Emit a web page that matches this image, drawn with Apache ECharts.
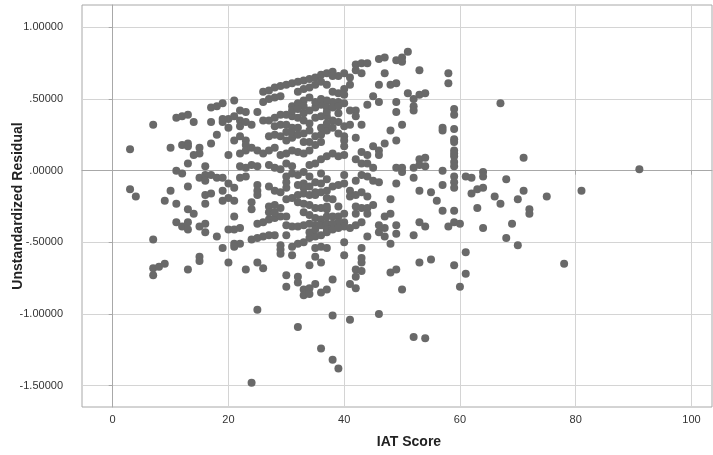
<!DOCTYPE html>
<html>
<head>
<meta charset="utf-8">
<title>Residual vs IAT Score</title>
<script src="https://cdn.jsdelivr.net/npm/echarts@6/dist/echarts.min.js"></script>
<style>
  html, body { margin: 0; padding: 0; background: #fff; }
  #chart { width: 713px; height: 455px; }
</style>
</head>
<body>
<div id="chart"></div>
<script>
// tick values of both axes
const xTicks = [0, 20, 40, 60, 80, 100];
const yTicks = [-1.5, -1.0, -0.5, 0, 0.5, 1.0];

// [IAT score, unstandardized residual]
const residualPoints = [
  // x 0-20, upper half
  [3, 0.15], [7, 0.32], [10, 0.16], [11, 0.37], [12, 0.38], [13, 0.39], [14, 0.34], [12, 0.18], [13, 0.19],
  [13, 0.17], [15, 0.16], [15, 0.12], [14, 0.11], [13, 0.05], [11, 0.0], [12, -0.02], [16, 0.03], [17, 0.44],
  [18, 0.45], [19, 0.47], [17, 0.34], [19, 0.36], [19, 0.34], [18, 0.25], [17, 0.19], [20, 0.3], [20, 0.11],
  // x 0-20, lower half
  [3, -0.13], [4, -0.18], [10, -0.14], [9, -0.21], [11, -0.23], [13, -0.11], [13, -0.27], [14, -0.3], [11, -0.36],
  [12, -0.39], [13, -0.36], [13, -0.41], [15, -0.39], [16, -0.37], [16, -0.43], [15, -0.05], [16, -0.03], [16, -0.07],
  [17, -0.03], [18, -0.05], [19, -0.05], [16, -0.17], [17, -0.16], [16, -0.23], [19, -0.14], [19, -0.21], [20, -0.19],
  [18, -0.46], [20, -0.41], [19, -0.54], [7, -0.48], [7, -0.68], [8, -0.67], [9, -0.65], [7, -0.73], [13, -0.69],
  [15, -0.6], [15, -0.63], [20, -0.64],
  // x 20-37, upper half
  [26, 0.55], [27, 0.56], [28, 0.58], [29, 0.59], [30, 0.6], [31, 0.61], [32, 0.62], [33, 0.63], [34, 0.64],
  [35, 0.65], [36, 0.67], [37, 0.68], [21, 0.49], [20, 0.36], [22, 0.42], [23, 0.41], [21, 0.38], [22, 0.35],
  [22, 0.31], [23, 0.34], [24, 0.32], [25, 0.41], [26, 0.48], [27, 0.5], [28, 0.51], [29, 0.52], [26, 0.35],
  [27, 0.35], [28, 0.37], [29, 0.39], [30, 0.39], [31, 0.38], [32, 0.37], [28, 0.31], [29, 0.32], [30, 0.32],
  [31, 0.3], [32, 0.3], [33, 0.4], [34, 0.42], [35, 0.44], [36, 0.46], [33, 0.49], [34, 0.51], [35, 0.48],
  [36, 0.5], [37, 0.49], [21, 0.21], [22, 0.24], [23, 0.21], [23, 0.18], [22, 0.12], [23, 0.14], [24, 0.16],
  [25, 0.14], [26, 0.12], [27, 0.24], [28, 0.25], [29, 0.24], [30, 0.21], [31, 0.23], [27, 0.14], [28, 0.16],
  [29, 0.11], [30, 0.12], [31, 0.14], [32, 0.13], [33, 0.12], [34, 0.14], [35, 0.24], [36, 0.25], [37, 0.28],
  [35, 0.37], [36, 0.38], [37, 0.38], [22, 0.03], [23, 0.02], [24, 0.04], [25, 0.03], [27, 0.04], [28, 0.02],
  [29, 0.01], [30, 0.05], [31, 0.03], [33, -0.01], [34, 0.04], [35, 0.05], [36, 0.08], [37, 0.1], [31, 0.45],
  [32, 0.47], [33, 0.45], [32, 0.55], [33, 0.57], [34, 0.58], [35, 0.6], [36, 0.62], [37, 0.6], [31, 0.42],
  [32, 0.43], [33, 0.35], [34, 0.33], [30, 0.27], [31, 0.26], [32, 0.25], [33, 0.26], [34, 0.2], [35, 0.18],
  [36, 0.2], [33, 0.2], [34, 0.28], [36, 0.3],
  // x 20-37, lower half
  [22, -0.05], [23, -0.04], [20, -0.09], [21, -0.12], [21, -0.21], [21, -0.32], [21, -0.41], [22, -0.4],
  [21, -0.51], [22, -0.51], [21, -0.53], [23, -0.69], [24, -0.22], [24, -0.27], [25, -0.1], [25, -0.14],
  [25, -0.17], [25, -0.37], [26, -0.36], [27, -0.34], [28, -0.33], [29, -0.32], [24, -0.48], [25, -0.47],
  [26, -0.46], [27, -0.45], [28, -0.45], [25, -0.64], [26, -0.68], [27, -0.11], [28, -0.14], [29, -0.15],
  [30, -0.12], [27, -0.25], [28, -0.24], [29, -0.26], [30, -0.2], [31, -0.19], [27, -0.29], [28, -0.29],
  [30, -0.32], [30, -0.38], [30, -0.45], [29, -0.52], [29, -0.55], [29, -0.58], [31, -0.59], [30, -0.73],
  [30, -0.81], [32, -0.74], [32, -0.78], [33, -0.83], [33, -0.87], [34, -0.82], [34, -0.86], [35, -0.79],
  [36, -0.85], [37, -0.83], [34, -0.66], [35, -0.54], [35, -0.6], [36, -0.64], [36, -0.53], [31, -0.53],
  [32, -0.51], [33, -0.5], [34, -0.47], [35, -0.46], [36, -0.45], [37, -0.43], [30, -0.08], [30, -0.04],
  [33, -0.09], [33, -0.12], [35, -0.08], [35, -0.15], [32, -0.17], [33, -0.16], [34, -0.17], [35, -0.17],
  [36, -0.15], [37, -0.14], [32, -0.22], [33, -0.23], [34, -0.24], [35, -0.26], [36, -0.26], [37, -0.27],
  [33, -0.29], [34, -0.31], [35, -0.33], [36, -0.34], [31, -0.39], [32, -0.39], [33, -0.38], [34, -0.37],
  [35, -0.38], [36, -0.38], [37, -0.37], [34, -0.43], [35, -0.41], [31, -0.02], [32, -0.03], [34, -0.04],
  [36, -0.02], [37, -0.06], [32, -0.1], [34, -0.11], [36, -0.09],
  // far below
  [25, -0.97], [32, -1.09], [36, -1.24], [24, -1.48],
  // x 37-54, upper half
  [46, 0.78], [47, 0.79], [49, 0.77], [50, 0.79], [50, 0.76], [51, 0.83], [53, 0.7], [47, 0.68], [42, 0.74],
  [43, 0.75], [44, 0.75], [42, 0.7], [43, 0.68], [46, 0.6], [48, 0.6], [49, 0.61], [38, 0.69], [38, 0.66],
  [39, 0.66], [40, 0.68], [41, 0.65], [41, 0.6], [38, 0.55], [39, 0.54], [40, 0.57], [40, 0.53], [38, 0.48],
  [39, 0.48], [40, 0.47], [45, 0.52], [46, 0.48], [44, 0.46], [49, 0.48], [49, 0.41], [51, 0.54], [52, 0.5],
  [52, 0.45], [52, 0.42], [53, 0.53], [54, 0.54], [37, 0.44], [37, 0.41], [38, 0.44], [39, 0.45], [39, 0.4],
  [41, 0.42], [42, 0.42], [42, 0.38], [38, 0.35], [37, 0.33], [39, 0.34], [40, 0.31], [38, 0.3], [41, 0.32],
  [43, 0.32], [50, 0.32], [48, 0.28], [49, 0.21], [47, 0.19], [45, 0.17], [46, 0.14], [46, 0.11], [39, 0.26],
  [40, 0.24], [40, 0.21], [42, 0.23], [40, 0.17], [38, 0.12], [39, 0.1], [40, 0.11], [43, 0.13], [44, 0.11],
  [42, 0.08], [43, 0.05], [44, 0.05], [45, 0.02], [49, 0.02], [50, -0.01], [50, 0.02], [52, 0.02], [53, 0.08],
  [54, 0.09], [53, 0.04], [54, 0.03], [40, -0.03], [43, -0.03],
  // x 37-54, lower half
  [38, -0.11], [39, -0.1], [40, -0.09], [37, -0.19], [38, -0.2], [39, -0.25], [37, -0.25], [41, -0.14],
  [41, -0.18], [42, -0.17], [43, -0.15], [44, -0.18], [42, -0.25], [43, -0.26], [44, -0.26], [45, -0.24],
  [42, -0.3], [44, -0.3], [42, -0.07], [44, -0.04], [45, -0.07], [46, -0.08], [49, -0.09], [48, -0.2],
  [52, -0.05], [53, -0.14], [37, -0.32], [38, -0.32], [39, -0.32], [40, -0.3], [40, -0.36], [39, -0.36],
  [38, -0.37], [40, -0.39], [37, -0.41], [38, -0.41], [39, -0.4], [41, -0.4], [42, -0.38], [43, -0.36],
  [44, -0.46], [46, -0.38], [46, -0.43], [47, -0.32], [47, -0.4], [47, -0.46], [48, -0.3], [48, -0.51],
  [49, -0.38], [49, -0.44], [52, -0.45], [53, -0.36], [54, -0.39], [40, -0.5], [40, -0.59], [37, -0.54],
  [43, -0.54], [43, -0.61], [43, -0.64], [42, -0.69], [43, -0.7], [42, -0.74], [41, -0.79], [42, -0.82],
  [38, -0.76], [48, -0.71], [49, -0.69], [50, -0.83], [53, -0.64],
  // far below
  [38, -1.01], [41, -1.04], [46, -1.0], [52, -1.16], [54, -1.17], [38, -1.32], [39, -1.38],
  // x 55 and up
  [58, 0.68], [58, 0.61], [67, 0.47], [59, 0.43], [59, 0.39], [57, 0.3], [57, 0.28], [59, 0.29], [59, 0.22],
  [59, 0.2], [59, 0.14], [59, 0.12], [59, 0.1], [59, 0.06], [59, 0.03], [57, 0.0], [59, -0.04], [61, -0.04],
  [62, -0.05], [64, -0.01], [64, -0.04], [68, -0.06], [71, 0.09], [59, -0.08], [59, -0.12], [64, -0.12],
  [63, -0.13], [62, -0.16], [71, -0.14], [57, -0.1], [55, -0.15], [56, -0.21], [66, -0.18], [67, -0.23],
  [70, -0.2], [72, -0.27], [72, -0.3], [63, -0.26], [57, -0.28], [59, -0.28], [58, -0.39], [59, -0.36],
  [60, -0.37], [64, -0.4], [69, -0.37], [68, -0.47], [70, -0.52], [61, -0.57], [55, -0.62], [59, -0.66],
  [61, -0.72], [60, -0.81], [91, 0.01], [81, -0.14], [75, -0.18], [78, -0.65]
];

//残差标签：.50000 / -1.00000
const fmtResidual = (v) => {
  const s = Math.abs(v).toFixed(5).replace(/^0/, "");
  return v < 0 ? "-" + s : s;
};

const font = "'Liberation Sans', Arial, sans-serif";
const chart = echarts.init(document.getElementById("chart"));
chart.setOption({
  animation: false,
  backgroundColor: "#fff",
  grid: {
    left: 82,
    right: 1,
    top: 5,
    bottom: 48,
    outerBoundsMode: "none",
    show: true,
    borderColor: "#a8a8a8",
    borderWidth: 1,
  },
  xAxis: {
    type: "value",
    min: -5.3,
    max: 103.55,
    name: "IAT Score",
    nameLocation: "middle",
    nameGap: 28,
    nameMoveOverlap: false,
    nameTextStyle: {
      fontFamily: font,
      fontSize: 14,
      fontWeight: "bold",
      color: "#222",
      padding: [0, 0, 0, 24],
    },
    axisLine: { show: true, lineStyle: { color: "#a8a8a8" } },
    axisTick: { show: true, length: 4, customValues: xTicks, lineStyle: { color: "#a8a8a8" } },
    axisLabel: { customValues: xTicks, fontFamily: font, fontSize: 11, color: "#333", margin: 7 },
    splitLine: { show: true, lineStyle: { color: "#d4d4d4" } },
  },
  yAxis: {
    type: "value",
    min: -1.649,
    max: 1.156,
    name: "Unstandardized Residual",
    nameLocation: "middle",
    nameGap: 57,
    nameMoveOverlap: false,
    nameTextStyle: { fontFamily: font, fontSize: 14, fontWeight: "bold", color: "#222" },
    axisLine: { show: true, lineStyle: { color: "#a8a8a8" } },
    axisTick: { show: true, length: 4, customValues: yTicks, lineStyle: { color: "#a8a8a8" } },
    axisLabel: {
      customValues: yTicks,
      formatter: fmtResidual,
      fontFamily: font,
      fontSize: 11,
      color: "#333",
      margin: 19,
    },
    splitLine: { show: true, lineStyle: { color: "#d4d4d4" } },
  },
  series: [
    {
      type: "scatter",
      data: residualPoints,
      symbolSize: 8,
      itemStyle: { color: "#696969", opacity: 1 },
    },
  ],
});
</script>
</body>
</html>
